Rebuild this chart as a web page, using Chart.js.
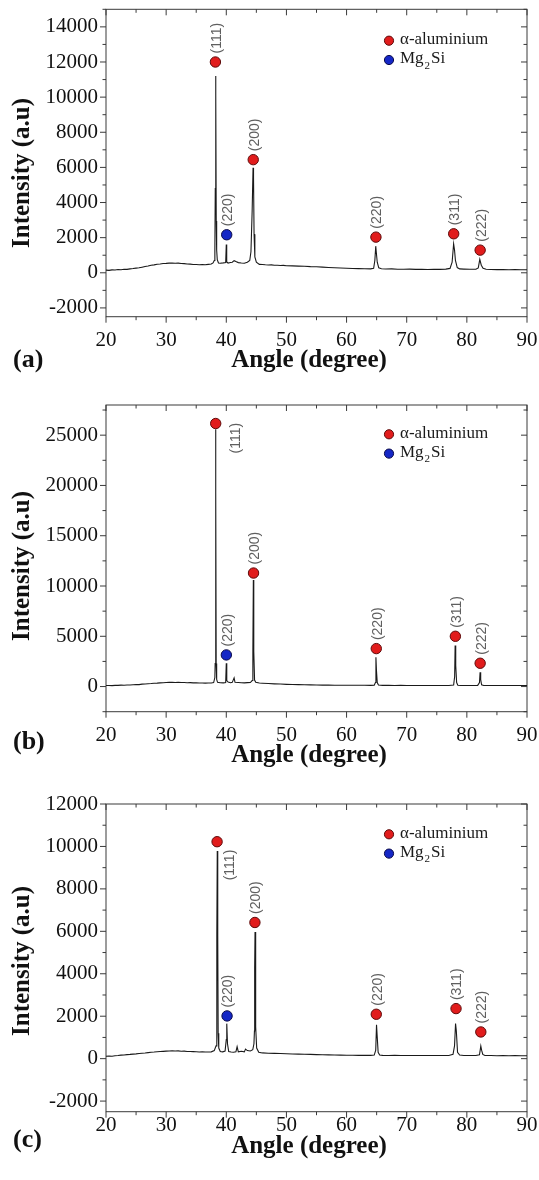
<!DOCTYPE html>
<html>
<head>
<meta charset="utf-8">
<script src="https://cdn.jsdelivr.net/npm/chart.js@4.4.1/dist/chart.umd.min.js"></script>
<style>
  html, body { margin: 0; padding: 0; background: #fff; }
  canvas { display: block; }
</style>
</head>
<body>
<canvas id="xrdA" width="539" height="390"></canvas>
<canvas id="xrdB" width="539" height="390"></canvas>
<canvas id="xrdC" width="539" height="400"></canvas>
<script>
// 2-theta axis, shared by all three patterns
const xTicks = [20, 30, 40, 50, 60, 70, 80, 90];

// pattern (a)
const anglesA = [
  20, 20.5, 21, 21.5, 22, 22.5, 23, 23.5, 24, 24.5,
  25, 25.5, 26, 26.5, 27, 27.5, 28, 28.5, 29, 29.5,
  30, 30.5, 31, 31.5, 32, 32.5, 33, 33.5, 34, 34.5,
  35, 35.5, 36, 36.5, 37, 37.5, 37.8, 38.0, 38.1, 38.17,
  38.22, 38.28, 38.33, 38.4, 38.5, 38.7, 39.0, 39.5, 39.9, 40.0,
  40.07, 40.3, 40.7, 41.0, 41.3, 41.6, 42.0, 42.5, 43.0, 43.5,
  43.9, 44.1, 44.3, 44.45, 44.53, 44.62, 44.75, 45.0, 45.5, 46,
  46.5, 47, 47.5, 48, 48.5, 49, 49.5, 50, 51, 52,
  53, 54, 55, 56, 57, 58, 59, 60, 61, 62,
  63, 64, 64.5, 64.7, 64.85, 64.95, 65.1, 65.35, 65.8, 66.5,
  67.5, 68.5, 69.5, 70.5, 71.5, 72.5, 73.5, 74.5, 75.5, 76.5,
  77.2, 77.55, 77.8, 77.95, 78.1, 78.4, 78.8, 79.5, 80.5, 81.5,
  81.9, 82.15, 82.4, 82.7, 83.2, 84, 85, 86, 87, 88,
  89, 90
];
const intensityA = [
  150, 135, 165, 155, 185, 170, 205, 195, 225, 240,
  265, 285, 320, 355, 385, 425, 450, 485, 500, 525,
  535, 550, 560, 545, 550, 525, 520, 500, 495, 475,
  470, 460, 475, 455, 480, 500, 560, 700, 1200, 4800,
  11200, 10100, 2950, 1300, 750, 560, 540, 565, 590, 1610,
  620, 555, 585, 600, 690, 640, 580, 560, 545, 600,
  700, 1200, 3500, 5980, 5400, 2200, 900, 600, 480, 470,
  455, 445, 450, 430, 425, 415, 420, 400, 395, 380,
  370, 350, 340, 320, 305, 290, 270, 255, 240, 235,
  230, 225, 260, 700, 1515, 1140, 600, 280, 230, 215,
  220, 205, 200, 210, 195, 200, 190, 200, 195, 210,
  250, 600, 1650, 1300, 700, 300, 220, 210, 200, 200,
  280, 760, 430, 260, 200, 190, 180, 185, 175, 180,
  170, 170
];
const yTicksA = [-2000, 0, 2000, 4000, 6000, 8000, 10000, 12000, 14000];
const markAnglesA = [38.19, 40.07, 44.48, 64.88, 77.81, 82.21];
const markValuesA = [12000, 2165, 6440, 2030, 2220, 1290];

// pattern (b)
const anglesB = [
  20, 20.5, 21, 21.5, 22, 22.5, 23, 23.5, 24, 24.5,
  25, 25.5, 26, 26.5, 27, 27.5, 28, 28.5, 29, 29.5,
  30, 30.5, 31, 31.5, 32, 32.5, 33, 33.5, 34, 34.5,
  35, 35.5, 36, 36.5, 37, 37.5, 37.9, 38.1, 38.15, 38.22,
  38.27, 38.32, 38.4, 38.55, 39.0, 39.5, 39.9, 40.0, 40.08, 40.3,
  40.7, 41.0, 41.3, 41.45, 42.0, 42.5, 43.0, 43.5, 44.0, 44.3,
  44.42, 44.5, 44.57, 44.7, 44.9, 45.5, 46, 47, 48, 49,
  50, 51, 52, 53, 54, 55, 56, 57, 58, 59,
  60, 61, 62, 63, 64, 64.6, 64.8, 64.88, 64.97, 65.1,
  65.3, 66, 67, 68, 69, 70, 71, 72, 73, 74,
  75, 76, 77, 77.8, 77.97, 78.05, 78.15, 78.3, 78.5, 79,
  80, 81, 81.8, 82.1, 82.2, 82.3, 82.45, 82.8, 84, 85,
  86, 87, 88, 89, 90
];
const intensityB = [
  100, 110, 95, 120, 115, 140, 130, 160, 150, 185,
  200, 190, 240, 260, 285, 300, 330, 345, 370, 385,
  405, 420, 430, 410, 425, 400, 410, 385, 390, 370,
  375, 350, 360, 345, 350, 360, 400, 900, 2300, 25600,
  19300, 2300, 700, 420, 380, 370, 400, 2320, 600, 450,
  380, 420, 860, 420, 400, 380, 370, 390, 400, 600,
  3500, 10600, 3510, 650, 420, 350, 330, 300, 270, 250,
  220, 200, 190, 175, 165, 150, 145, 140, 135, 130,
  130, 125, 130, 125, 120, 140, 400, 2920, 1590, 400,
  150, 120, 115, 110, 115, 110, 105, 110, 105, 100,
  105, 100, 105, 150, 1000, 4075, 2090, 400, 130, 110,
  105, 100, 120, 400, 1420, 700, 180, 110, 100, 105,
  100, 105, 100, 100, 100
];
const yTicksB = [0, 5000, 10000, 15000, 20000, 25000];
const markAnglesB = [38.24, 40.01, 44.53, 64.94, 78.09, 82.21];
const markValuesB = [26160, 3146, 11290, 3775, 5000, 2318];

// pattern (c)
const anglesC = [
  20, 20.5, 21, 21.5, 22, 22.5, 23, 23.5, 24, 24.5,
  25, 25.5, 26, 26.5, 27, 27.5, 28, 28.5, 29, 29.5,
  30, 30.5, 31, 31.5, 32, 32.5, 33, 33.5, 34, 34.5,
  35, 35.5, 36, 36.5, 37, 37.5, 38.0, 38.3, 38.4, 38.45,
  38.5, 38.56, 38.6, 38.65, 38.75, 39.0, 39.4, 39.8, 40.0, 40.08,
  40.2, 40.4, 40.8, 41.2, 41.6, 41.8, 42.0, 42.5, 43.0, 43.2,
  43.5, 44.0, 44.4, 44.6, 44.68, 44.72, 44.78, 44.85, 44.92, 45.05,
  45.4, 46, 47, 48, 49, 50, 51, 52, 53, 54,
  55, 56, 57, 58, 59, 60, 61, 62, 63, 64,
  64.6, 64.85, 64.98, 65.08, 65.25, 65.5, 66, 67, 68, 69,
  70, 71, 72, 73, 74, 75, 76, 77, 77.7, 77.95,
  78.12, 78.25, 78.45, 78.8, 79.5, 80.5, 81.5, 82.1, 82.32, 82.45,
  82.65, 83, 84, 85, 86, 87, 88, 89, 90
];
const intensityC = [
  110, 120, 115, 140, 150, 165, 170, 190, 200, 215,
  225, 240, 255, 265, 285, 300, 310, 325, 335, 345,
  355, 360, 370, 360, 365, 350, 355, 340, 335, 330,
  325, 315, 320, 310, 315, 320, 380, 600, 1180, 5815,
  9780, 8490, 5800, 1200, 500, 340, 320, 360, 900, 1650,
  700, 330, 310, 300, 320, 560, 320, 350, 320, 450,
  380, 360, 420, 700, 1300, 4320, 5970, 5190, 1500, 500,
  300, 270, 255, 250, 240, 230, 220, 215, 205, 200,
  190, 185, 180, 170, 165, 160, 160, 155, 160, 155,
  170, 400, 1600, 1100, 300, 170, 155, 150, 155, 150,
  145, 150, 145, 150, 145, 150, 145, 150, 200, 600,
  1650, 1300, 300, 170, 150, 145, 150, 180, 595, 400,
  200, 150, 145, 140, 145, 140, 145, 140, 140
];
const yTicksC = [-2000, 0, 2000, 4000, 6000, 8000, 10000, 12000];
const markAnglesC = [38.47, 40.13, 44.76, 64.94, 78.2, 82.32];
const markValuesC = [10223, 2013, 6417, 2092, 2359, 1258];

// reflections, same order in every pattern
const markLabels = ["(111)", "(220)", "(200)", "(220)", "(311)", "(222)"];
const markPhases = ["al", "mg", "al", "al", "al", "al"];

const phaseStyle = {
  al: { fill: "#e11c1c", stroke: "#5e0b0b" },
  mg: { fill: "#1527c6", stroke: "#0b0b4a" },
};

const serif = "'Liberation Serif', 'Times New Roman', serif";
const sans = "'Liberation Sans', Arial, sans-serif";
const ink = "#111111";

const panels = [
  {
    canvasId: "xrdA", letter: "(a)", height: 390,
    angles: anglesA, intensity: intensityA, yTicks: yTicksA,
    markAngles: markAnglesA, markValues: markValuesA,
    yMin: -2500, yMax: 15000, yMinorStep: 1000,
    top: 9.3, bottom: 316.7, xLabelPad: 10.7,
    yTitleY: 173, xTitleY: 361, letterY: 360,
    legendY: 40.7, sideLabel: null,
  },
  {
    canvasId: "xrdB", letter: "(b)", height: 390,
    angles: anglesB, intensity: intensityB, yTicks: yTicksB,
    markAngles: markAnglesB, markValues: markValuesB,
    yMin: -2500, yMax: 28000, yMinorStep: 2500,
    top: 15, bottom: 321.7, xLabelPad: 10.7,
    yTitleY: 176, xTitleY: 366, letterY: 352,
    legendY: 44.3, sideLabel: { index: 0, dx: 20.6, dy: 14.7 },
  },
  {
    canvasId: "xrdC", letter: "(c)", height: 400,
    angles: anglesC, intensity: intensityC, yTicks: yTicksC,
    markAngles: markAnglesC, markValues: markValuesC,
    yMin: -2500, yMax: 12000, yMinorStep: 1000,
    top: 24, bottom: 331.7, xLabelPad: 0.7,
    yTitleY: 181, xTitleY: 367, letterY: 360,
    legendY: 54.3, sideLabel: { index: 0, dx: 13.1, dy: 23.3 },
  },
];

function drawFrame(chart, panel) {
  const { ctx, chartArea: a, scales: { x, y } } = chart;
  ctx.save();
  ctx.strokeStyle = "#3a3a3a";
  ctx.lineWidth = 1;
  ctx.strokeRect(a.left, a.top, a.right - a.left, a.bottom - a.top);

  ctx.beginPath();
  // bottom ticks point out, the mirrored top ones point in
  for (let v = 20; v <= 90; v += 5) {
    const px = x.getPixelForValue(v);
    const len = v % 10 === 0 ? 6 : 3.5;
    ctx.moveTo(px, a.bottom);
    ctx.lineTo(px, a.bottom + len);
    ctx.moveTo(px, a.top);
    ctx.lineTo(px, a.top + len);
  }
  const start = Math.ceil(panel.yMin / panel.yMinorStep) * panel.yMinorStep;
  for (let v = start; v <= panel.yMax; v += panel.yMinorStep) {
    const py = y.getPixelForValue(v);
    const len = panel.yTicks.includes(v) ? 6 : 3.5;
    ctx.moveTo(a.left, py);
    ctx.lineTo(a.left - len, py);
    ctx.moveTo(a.right, py);
    ctx.lineTo(a.right - len, py);
  }
  ctx.stroke();
  ctx.restore();
}

function drawPeakLabels(chart, panel) {
  const { ctx } = chart;
  const points = chart.getDatasetMeta(0).data;
  ctx.save();
  ctx.fillStyle = "#5f5f5f";
  ctx.font = `14px ${sans}`;
  ctx.textBaseline = "middle";
  points.forEach((p, i) => {
    ctx.save();
    const side = panel.sideLabel && panel.sideLabel.index === i ? panel.sideLabel : null;
    if (side) {
      ctx.translate(p.x + side.dx, p.y + side.dy);
      ctx.textAlign = "center";
    } else {
      ctx.translate(p.x + 1.5, p.y - 8.5);
      ctx.textAlign = "left";
    }
    ctx.rotate(-Math.PI / 2);
    ctx.fillText(markLabels[i], 0, 0);
    ctx.restore();
  });
  ctx.restore();
}

function drawDot(ctx, x, y, r, phase) {
  ctx.beginPath();
  ctx.arc(x, y, r, 0, Math.PI * 2);
  ctx.fillStyle = phaseStyle[phase].fill;
  ctx.fill();
  ctx.lineWidth = 1;
  ctx.strokeStyle = phaseStyle[phase].stroke;
  ctx.stroke();
}

function drawLegend(ctx, top) {
  const dotX = 389;
  const textX = 400;
  const rowY = top + 19.3;
  ctx.save();
  drawDot(ctx, dotX, top, 4.6, "al");
  drawDot(ctx, dotX, rowY, 4.6, "mg");
  ctx.fillStyle = "#1a1a1a";
  ctx.textBaseline = "middle";
  ctx.textAlign = "left";
  ctx.font = `17px ${serif}`;
  ctx.fillText("\u03b1-aluminium", textX, top - 1);
  let cx = textX;
  ctx.fillText("Mg", cx, rowY - 1);
  cx += ctx.measureText("Mg").width + 1;
  ctx.font = `11px ${serif}`;
  ctx.fillText("2", cx, rowY + 6);
  cx += ctx.measureText("2").width + 1;
  ctx.font = `17px ${serif}`;
  ctx.fillText("Si", cx, rowY - 1);
  ctx.restore();
}

function drawTitles(chart, panel) {
  const { ctx } = chart;
  ctx.save();
  ctx.fillStyle = ink;
  ctx.textBaseline = "middle";
  ctx.font = `bold 25px ${serif}`;
  ctx.textAlign = "center";
  ctx.fillText("Angle (degree)", 309, panel.xTitleY);

  ctx.save();
  ctx.translate(22.5, panel.yTitleY);
  ctx.rotate(-Math.PI / 2);
  ctx.fillText("Intensity (a.u)", 0, 0);
  ctx.restore();

  ctx.textAlign = "left";
  ctx.font = `bold 26px ${serif}`;
  ctx.fillText(panel.letter, 13, panel.letterY);
  ctx.restore();
}

function makeDecorPlugin(panel) {
  return {
    id: `${panel.canvasId}Decor`,
    beforeDatasetsDraw(chart) {
      drawFrame(chart, panel);
    },
    afterDatasetsDraw(chart) {
      drawPeakLabels(chart, panel);
      drawLegend(chart.ctx, panel.legendY);
      drawTitles(chart, panel);
    },
  };
}

function renderPattern(panel) {
  const canvas = document.getElementById(panel.canvasId);
  const curve = panel.angles.map((a, i) => ({ x: a, y: panel.intensity[i] }));
  const marks = panel.markAngles.map((a, i) => ({ x: a, y: panel.markValues[i] }));
  const xAxisHeight = 40;

  return new Chart(canvas.getContext("2d"), {
    type: "scatter",
    data: {
      datasets: [
        {
          data: marks,
          showLine: false,
          pointRadius: 5.2,
          pointBorderWidth: 1,
          pointBackgroundColor: markPhases.map(p => phaseStyle[p].fill),
          pointBorderColor: markPhases.map(p => phaseStyle[p].stroke),
        },
        {
          data: curve,
          showLine: true,
          borderColor: "#1a1a1a",
          borderWidth: 1.1,
          pointRadius: 0,
          tension: 0,
        },
      ],
    },
    plugins: [makeDecorPlugin(panel)],
    options: {
      responsive: false,
      animation: false,
      devicePixelRatio: 1,
      events: [],
      layout: {
        padding: {
          left: 0,
          right: 12,
          top: panel.top,
          bottom: panel.height - panel.bottom - xAxisHeight,
        },
      },
      plugins: { legend: { display: false }, tooltip: { enabled: false } },
      scales: {
        x: {
          type: "linear",
          min: 20,
          max: 90,
          afterBuildTicks: scale => { scale.ticks = xTicks.map(v => ({ value: v })); },
          afterFit: scale => {
            scale.height = xAxisHeight;
            scale.paddingLeft = 0;
            scale.paddingRight = 0;
          },
          grid: { display: false, drawTicks: false },
          border: { display: false },
          ticks: {
            padding: panel.xLabelPad,
            color: ink,
            autoSkip: false,
            maxRotation: 0,
            font: { family: serif, size: 21 },
            callback: v => String(v),
          },
        },
        y: {
          type: "linear",
          min: panel.yMin,
          max: panel.yMax,
          afterBuildTicks: scale => { scale.ticks = panel.yTicks.map(v => ({ value: v })); },
          afterFit: scale => {
            scale.width = 106;
            scale.paddingTop = 0;
            scale.paddingBottom = 0;
          },
          grid: { display: false, drawTicks: false },
          border: { display: false },
          ticks: {
            padding: 8,
            color: ink,
            autoSkip: false,
            font: { family: serif, size: 21 },
            callback: v => String(v),
          },
        },
      },
    },
  });
}

panels.forEach(renderPattern);
</script>
</body>
</html>
